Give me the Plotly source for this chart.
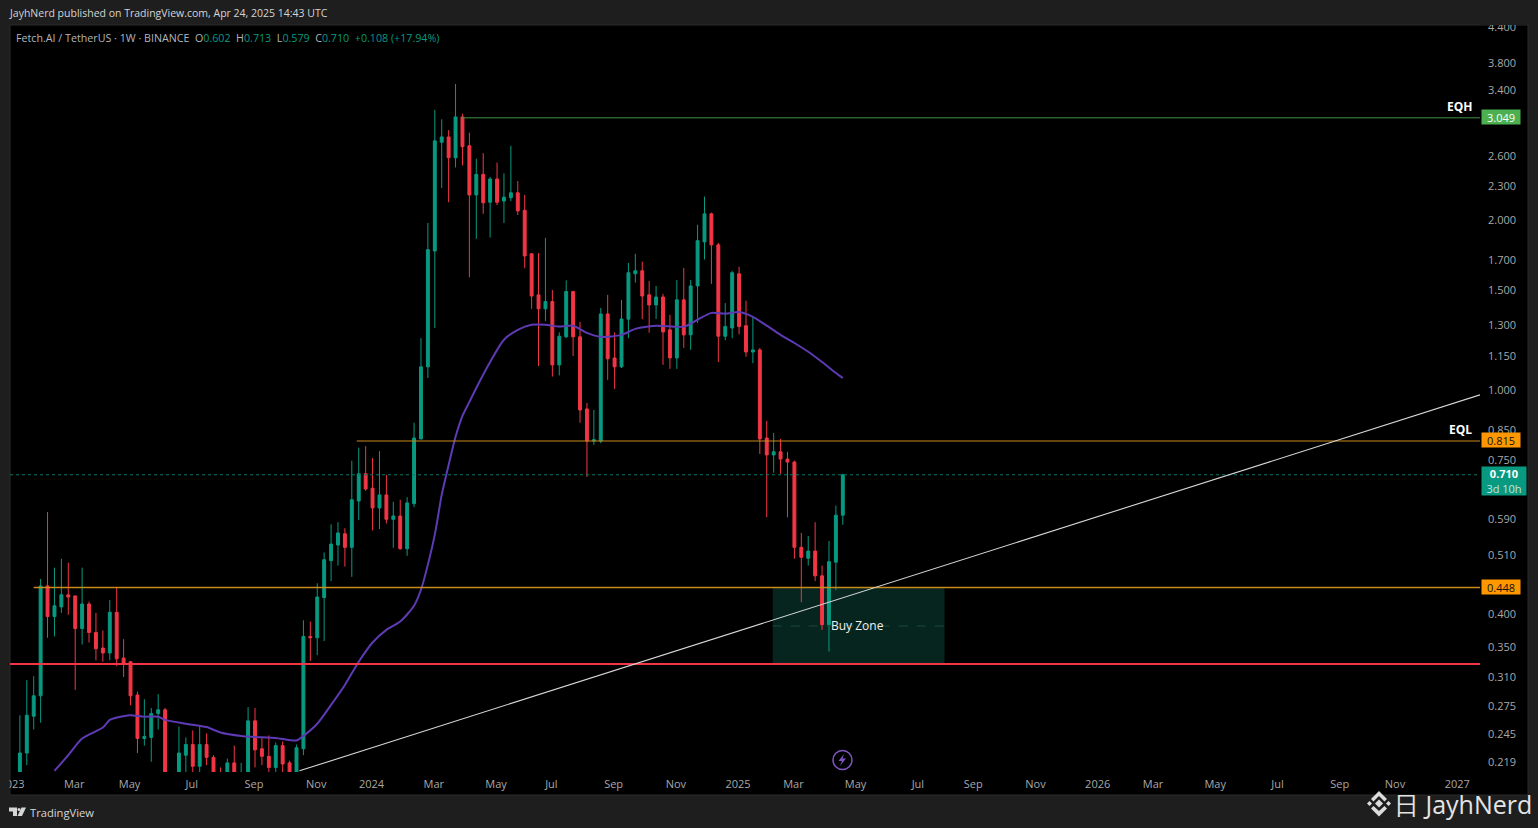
import math

import pandas as pd
import plotly.graph_objects as go

W, H = 1538, 828

# weekly candles (values under 0.21 are off the bottom)
weeks = pd.date_range("2023-01-09", periods=120, freq="7D")
opens = [
    .198, .228, .265, .288, .451, .398, .414, .435, .433, .379, .419, .373, .350, .343, .405, .336, .331, .289, .242, .243,
    .268, .272, .195, .200, .226, .236, .216, .236, .224, .205, .200, .219, .195, .205, .260, .232, .225, .215, .235, .219,
    .200, .232, .367, .365, .430, .500, .533, .558, .528, .638, .713, .672, .620, .654, .592, .600, .525, .631, .822, 1.103,
    1.77, 2.76, 2.82, 2.59, 3.06, 2.72, 2.225, 2.42, 2.16, 2.375, 2.17, 2.20, 2.245, 2.09, 1.75, 1.48, 1.398, 1.44, 1.112, 1.247,
    1.50, 1.247, .929, .815, .815, 1.369, 1.144, 1.103, 1.34, 1.613, 1.633, 1.48, 1.42, 1.467, 1.283, 1.144, 1.45, 1.257, 1.535, 1.837,
    2.06, 1.815, 1.25, 1.293, 1.613, 1.305, 1.172, 1.182, .825, .770, .780, .757, .748, .528, .505, .520, .470, .385, .497, .602,
]
highs = [
    .266, .307, .312, .464, .610, .486, .504, .496, .433, .486, .423, .404, .376, .426, .449, .363, .332, .293, .284, .274,
    .290, .274, .208, .254, .243, .250, .255, .247, .226, .215, .223, .235, .219, .275, .274, .243, .245, .238, .239, .221,
    .236, .392, .390, .456, .517, .580, .585, .571, .752, .793, .798, .760, .782, .710, .636, .641, .648, .878, 1.24, 1.985,
    3.15, 3.03, 2.90, 3.50, 3.10, 2.87, 2.58, 2.64, 2.395, 2.54, 2.43, 2.72, 2.355, 2.225, 1.755, 1.755, 1.867, 1.51, 1.27, 1.57,
    1.505, 1.325, .952, .925, 1.403, 1.48, 1.27, 1.45, 1.686, 1.75, 1.695, 1.566, 1.535, 1.486, 1.364, 1.573, 1.652, 1.573, 1.97, 2.21,
    2.07, 1.83, 1.431, 1.633, 1.66, 1.445, 1.353, 1.192, .885, .842, .822, .780, .752, .560, .553, .585, .490, .542, .626, .713,
]
lows = [
    .195, .217, .251, .258, .365, .367, .404, .401, .295, .355, .358, .333, .331, .333, .325, .311, .277, .228, .235, .220,
    .251, .190, .180, .190, .210, .205, .205, .217, .200, .190, .195, .195, .190, .200, .215, .217, .208, .208, .205, .195,
    .195, .226, .332, .340, .360, .460, .490, .488, .468, .590, .665, .566, .569, .582, .527, .523, .510, .622, .820, 1.054,
    1.293, 2.29, 2.16, 2.49, 2.51, 1.59, 1.86, 2.06, 1.87, 2.135, 1.985, 2.17, 2.05, 1.65, 1.398, 1.107, 1.33, 1.06, 1.065, 1.24,
    1.153, .878, .704, .802, .808, 1.046, 1.008, 1.098, 1.24, 1.555, 1.34, 1.268, 1.341, 1.112, 1.094, 1.094, 1.192, 1.182, 1.32, 1.71,
    1.548, 1.125, 1.23, 1.24, 1.26, 1.149, 1.12, .773, .597, .716, .713, .597, .504, .422, .490, .460, .377, .345, .443, .579,
]
closes = [
    .228, .266, .288, .451, .398, .416, .435, .431, .379, .419, .373, .349, .343, .405, .335, .328, .288, .242, .244, .268,
    .272, .195, .195, .228, .236, .216, .236, .224, .205, .195, .219, .200, .205, .260, .231, .225, .215, .235, .218, .200,
    .233, .367, .365, .431, .502, .535, .560, .528, .641, .713, .670, .620, .654, .592, .600, .525, .633, .825, 1.103, 1.78,
    2.775, 2.82, 2.59, 3.06, 2.71, 2.225, 2.42, 2.155, 2.375, 2.16, 2.205, 2.245, 2.085, 1.735, 1.473, 1.398, 1.44, 1.112, 1.25, 1.50,
    1.247, .925, .815, .819, 1.369, 1.14, 1.103, 1.341, 1.62, 1.633, 1.473, 1.42, 1.467, 1.272, 1.144, 1.45, 1.257, 1.535, 1.846, 2.06,
    1.815, 1.25, 1.30, 1.62, 1.30, 1.172, 1.182, .822, .770, .780, .757, .748, .528, .507, .520, .470, .385, .498, .602, .710,
]

# purple average, picked at every couple of candles
avg_idx = [5, 7, 9, 12, 13, 15, 16, 18, 20, 21, 24, 27, 29, 32, 34, 37, 40, 41, 43, 45, 47, 49, 51, 53, 55, 57, 58, 59, 60, 61,
           62, 63, 64, 65, 66, 68, 70, 72, 74, 76, 78, 80, 82, 84, 87, 89, 92, 96, 98, 100, 102, 104, 106, 108, 110, 112, 114, 116, 118, 119]
avg_vals = [.212, .226, .242, .253, .261, .265, .266, .2645, .2645, .261, .257, .2535, .248, .2445, .2435, .2425, .240, .2445, .257, .2775,
            .301, .331, .358, .377, .390, .416, .444, .492, .556, .654, .739, .829, .903, .956, 1.012, 1.125, 1.232, 1.283, 1.31, 1.31, 1.30,
            1.305, 1.267, 1.247, 1.257, 1.288, 1.305, 1.30, 1.337, 1.375, 1.37, 1.38, 1.353, 1.305, 1.257, 1.216, 1.173, 1.125, 1.076, 1.054]

y_ticks = [4.4, 3.8, 3.4, 2.6, 2.3, 2.0, 1.7, 1.5, 1.3, 1.15, 1.0, .85, .75, .59, .51, .40, .35, .31, .275, .245, .219]

x_tick_dates = ["2023-01-02", "2023-03-06", "2023-05-01", "2023-07-03", "2023-09-04", "2023-11-06",
                "2024-01-01", "2024-03-04", "2024-05-06", "2024-07-01", "2024-09-02", "2024-11-04",
                "2025-01-06", "2025-03-03", "2025-05-05", "2025-07-07", "2025-09-01", "2025-11-03",
                "2026-01-05", "2026-03-02", "2026-05-04", "2026-07-06", "2026-09-07", "2026-11-02", "2027-01-04"]
x_tick_text = ["2023", "Mar", "May", "Jul", "Sep", "Nov",
               "2024", "Mar", "May", "Jul", "Sep", "Nov",
               "2025", "Mar", "May", "Jul", "Sep", "Nov",
               "2026", "Mar", "May", "Jul", "Sep", "Nov", "2027"]

x_start, x_end = "2022-12-30", "2027-01-26"
eqh, eql, mid_level, floor_level, last_price = 3.049, .815, .448, .328, .710
eqh_from, eql_from, mid_from = "2024-03-31", "2023-12-16", "2023-01-23"
trend_dates = ["2023-10-19", x_end]
trend_vals = [.212, .984]
zone_dates = ["2025-02-09", "2025-08-02"]
zone_center = .383

GREEN, RED = "#089981", "#f23645"
ORANGE, PURPLE = "#c98a1b", "#5e3ab5"
PAGE = "#1e1e1e"
TICK = "#a8a8a8"
FONT = "Open Sans"


def px(x):
    return x / W


def py(y):
    return 1 - y / H


def poly(points, color):
    path = "M " + " L ".join(f"{px(x):.5f},{py(y):.5f}" for x, y in points) + " Z"
    return dict(type="path", xref="paper", yref="paper", path=path, fillcolor=color, line_width=0, layer="above")


def hline(x0, y0, color, width=1, dash="solid"):
    return go.Scatter(x=[x0, x_end], y=[y0, y0], mode="lines", line=dict(color=color, width=width, dash=dash),
                      hoverinfo="skip")


fig = go.Figure()

fig.add_trace(go.Candlestick(
    x=weeks, open=opens, high=highs, low=lows, close=closes,
    increasing=dict(line=dict(color=GREEN, width=1), fillcolor=GREEN),
    decreasing=dict(line=dict(color=RED, width=1), fillcolor=RED),
))
fig.add_trace(go.Scatter(x=weeks[avg_idx], y=avg_vals, mode="lines",
                         line=dict(color=PURPLE, width=2, shape="spline", smoothing=0.7), hoverinfo="skip"))
fig.add_trace(hline(x_start, last_price, "#067a67", 1, "dot"))
fig.add_trace(hline(eqh_from, eqh, "#3f9143", 1))
fig.add_trace(hline(eql_from, eql, ORANGE, 1.2))
fig.add_trace(hline(mid_from, mid_level, ORANGE, 1.4))
fig.add_trace(hline(x_start, floor_level, RED, 2))
fig.add_trace(go.Scatter(x=zone_dates, y=[zone_center, zone_center], mode="lines",
                         line=dict(color="#1d4a3c", width=1, dash="dash"), hoverinfo="skip"))
fig.add_trace(go.Scatter(x=trend_dates, y=trend_vals, mode="lines", line=dict(color="#d8d8d8", width=1.1), hoverinfo="skip"))

shapes = [
    # black panel behind plot, price scale and time scale
    dict(type="rect", xref="paper", yref="paper", x0=px(10), x1=px(1528), y0=py(795), y1=py(25),
         fillcolor="#000000", line=dict(color="#2a2a2a", width=1), layer="below"),
    dict(type="rect", xref="x", yref="y", x0=zone_dates[0], x1=zone_dates[1], y0=floor_level, y1=mid_level,
         fillcolor="#06251e", line_width=0, layer="below"),
    # hides what overflows the panel: the cut 2023 label and the cut 4.400 label
    dict(type="rect", xref="paper", yref="paper", x0=0, x1=px(9.5), y0=py(795), y1=py(772),
         fillcolor=PAGE, line_width=0, layer="above"),
    dict(type="rect", xref="paper", yref="paper", x0=px(1480), x1=px(1527), y0=py(25), y1=1,
         fillcolor=PAGE, line_width=0, layer="above"),
    # lightning badge
    dict(type="circle", xref="paper", yref="paper", x0=px(833), x1=px(852), y0=py(769.5), y1=py(750.5),
         line=dict(color="#7e57c2", width=1.5), layer="above"),
    poly([(844, 754), (838.5, 761), (842, 761), (840, 766), (846, 758.5), (842.5, 758.5)], "#7e57c2"),
    # TradingView mark
    poly([(9, 807.5), (17, 807.5), (17, 816), (13, 816), (13, 811.5), (9, 811.5)], "#d6d6d6"),
    dict(type="circle", xref="paper", yref="paper", x0=px(17.5), x1=px(20.5), y0=py(811), y1=py(808),
         fillcolor="#d6d6d6", line_width=0, layer="above"),
    poly([(21.5, 807.5), (26, 807.5), (22, 816), (17.5, 816)], "#d6d6d6"),
    # Binance mark
    poly([(1379, 799.5), (1383, 803.5), (1379, 807.5), (1375, 803.5)], "#dcdcdc"),
    poly([(1369.5, 801), (1372, 803.5), (1369.5, 806), (1367, 803.5)], "#dcdcdc"),
    poly([(1388.5, 801), (1391, 803.5), (1388.5, 806), (1386, 803.5)], "#dcdcdc"),
    poly([(1379, 791), (1387, 799), (1384.5, 801.5), (1379, 796), (1373.5, 801.5), (1371, 799)], "#dcdcdc"),
    poly([(1379, 816.5), (1387, 808.5), (1384.5, 806), (1379, 811), (1373.5, 806), (1371, 808.5)], "#dcdcdc"),
]


def price_box(value, lines, bg, fg, width=38, height=14, y_shift=1):
    return dict(xref="paper", yref="y", x=px(1481), y=math.log10(value), xanchor="left", yanchor="middle", showarrow=False,
                text=lines, bgcolor=bg, font=dict(color=fg, size=11, family=FONT), width=width, height=height,
                align="center", borderpad=0, yshift=y_shift)


def label(x, y, text, size, color, anchor="left"):
    return dict(xref="paper", yref="paper", x=px(x), y=py(y), xanchor=anchor, yanchor="middle", showarrow=False,
                text=text, align="left", font=dict(color=color, size=size, family=FONT))


def val(s):
    return f'<span style="color:{GREEN}">{s}</span>'


annotations = [
    label(7, 13, "JayhNerd published on TradingView.com, Apr 24, 2025 14:43 UTC", 10.5, "#d4d4d4"),
    label(14, 38, "Fetch.AI / TetherUS · 1W · BINANCE  O" + val("0.602") + "  H" + val("0.713") + "  L" + val("0.579")
          + "  C" + val("0.710") + "  " + val("+0.108 (+17.94%)"), 10.7, "#b2b5be"),
    label(28, 812, "TradingView", 11.2, "#d6d6d6"),
    label(1392, 804, "日 JayhNerd", 25, "#e4e4e4"),
    label(1445, 106, "<b>EQH</b>", 12, "#ffffff"),
    label(1447, 429, "<b>EQL</b>", 12, "#ffffff"),
    dict(xref="x", yref="y", x="2025-05-06", y=math.log10(zone_center), showarrow=False, text="Buy Zone",
         font=dict(color="#f0f0f0", size=12, family=FONT)),
    price_box(eqh, "3.049", "#4caf50", "#ffffff"),
    price_box(eql, "0.815", "#ff9800", "#131313"),
    price_box(mid_level, "0.448", "#ff9800", "#131313"),
    price_box(last_price, "<b>0.710</b><br><span style='color:#c5e6df'>3d 10h</span>", GREEN, "#ffffff", 44, 28, -6),
]

fig.update_layout(
    width=W, height=H,
    margin=dict(l=0, r=0, t=0, b=0, autoexpand=False),
    paper_bgcolor=PAGE, plot_bgcolor="rgba(0,0,0,0)",
    showlegend=False, boxgap=0.4, hovermode=False,
    font=dict(family=FONT, color=TICK, size=11),
    shapes=shapes, annotations=annotations,
    xaxis=dict(type="date", domain=[px(10), px(1480)], range=[x_start, x_end], rangeslider_visible=False,
               tickmode="array", tickvals=x_tick_dates, ticktext=x_tick_text, showgrid=False, zeroline=False,
               showline=False, ticks="", tickangle=0, tickfont=dict(size=11, color=TICK), ticklabelstandoff=4,
               ticklabelshift=-1, ticklabeloverflow="allow", automargin=False),
    yaxis=dict(type="log", domain=[py(772), py(25)], range=[-0.6757, 0.6487], side="right",
               tickmode="array", tickvals=y_ticks, ticktext=[f"{v:.3f}" for v in y_ticks], showgrid=False,
               zeroline=False, showline=False, ticks="", tickfont=dict(size=11, color=TICK), ticklabelstandoff=7,
               ticklabelshift=-1, ticklabeloverflow="allow", automargin=False),
)

fig.write_html("out.html", config=dict(displayModeBar=False),
               post_script="document.body.style.margin='0';document.body.style.background='#1e1e1e';")
